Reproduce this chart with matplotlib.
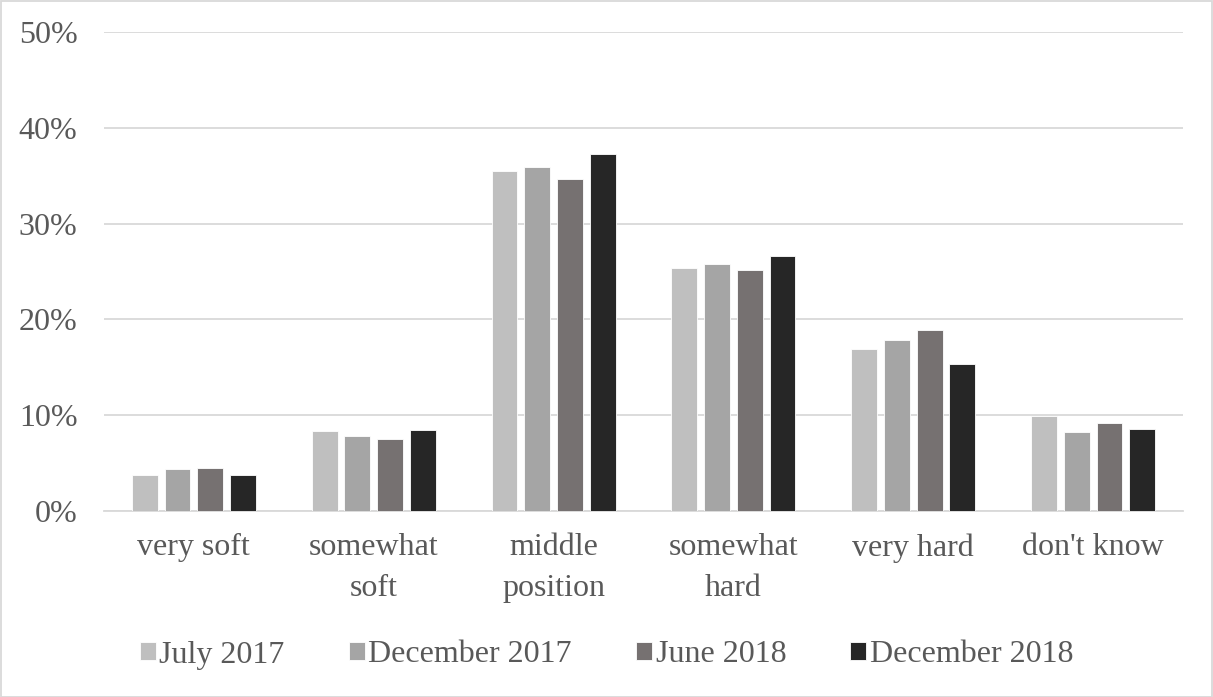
import matplotlib
matplotlib.use("Agg")
import matplotlib.pyplot as plt
import numpy as np
from matplotlib.patches import Rectangle

categories = ["very soft", "somewhat\nsoft", "middle\nposition", "somewhat\nhard", "very hard", "don't know"]
series_names = ["July 2017", "December 2017", "June 2018", "December 2018"]
july_2017 = [3.8, 8.3, 35.5, 25.4, 16.9, 9.9]
dec_2017 = [4.4, 7.8, 35.9, 25.8, 17.9, 8.2]
june_2018 = [4.5, 7.5, 34.7, 25.2, 18.9, 9.2]
dec_2018 = [3.8, 8.5, 37.3, 26.6, 15.3, 8.6]
yticks = [0, 10, 20, 30, 40, 50]

colors = ["#BFBFBF", "#A5A5A5", "#767171", "#262626"]
W, H = 1213, 697
fig = plt.figure(figsize=(W / 100, H / 100), dpi=100)
plt.rcParams['font.family'] = ['Liberation Serif', 'DejaVu Serif']
FS = 23

ax = fig.add_axes([104 / W, 1 - 511 / H, (1183 - 104) / W, (511 - 32) / H])
x = np.arange(len(categories))
bw = 0.144
step = 0.182
all_series = [july_2017, dec_2017, june_2018, dec_2018]
for i, (vals, name, c) in enumerate(zip(all_series, series_names, colors)):
    ax.bar(x + (i - 1.5) * step, vals, width=bw, color=c, label=name,
           edgecolor="white", linewidth=0.6, zorder=3)

ax.set_xlim(-0.5, len(categories) - 0.5)
ax.set_ylim(0, 50)
ax.set_yticks(yticks)
ax.set_yticklabels([f"{t}%" for t in yticks])
ax.set_xticks(x)
ax.set_xticklabels(categories, linespacing=1.55)
ax.grid(axis="y", color="#D9D9D9", linewidth=1.3, zorder=0)
for s in ["top", "right", "left"]:
    ax.spines[s].set_visible(False)
ax.spines["bottom"].set_color("#D9D9D9")
ax.spines["bottom"].set_linewidth(1.3)
ax.tick_params(axis="both", length=0, labelsize=FS, colors="#595959")
ax.tick_params(axis="x", pad=16)
ax.tick_params(axis="y", pad=19)

leg = fig.legend(loc="center", bbox_to_anchor=(0.5, 1 - 655 / H), ncol=4, frameon=False,
                 fontsize=FS, handlelength=0.5, handleheight=0.5, handletextpad=0.12,
                 columnspacing=2.0, labelcolor="#595959")

fig.patches.append(Rectangle((0.5 / W, 0.5 / H), 1 - 1.5 / W, 1 - 1.5 / H, transform=fig.transFigure,
                             fill=False, edgecolor="#D9D9D9", linewidth=1.3))
fig.savefig("out.png", dpi=100)
